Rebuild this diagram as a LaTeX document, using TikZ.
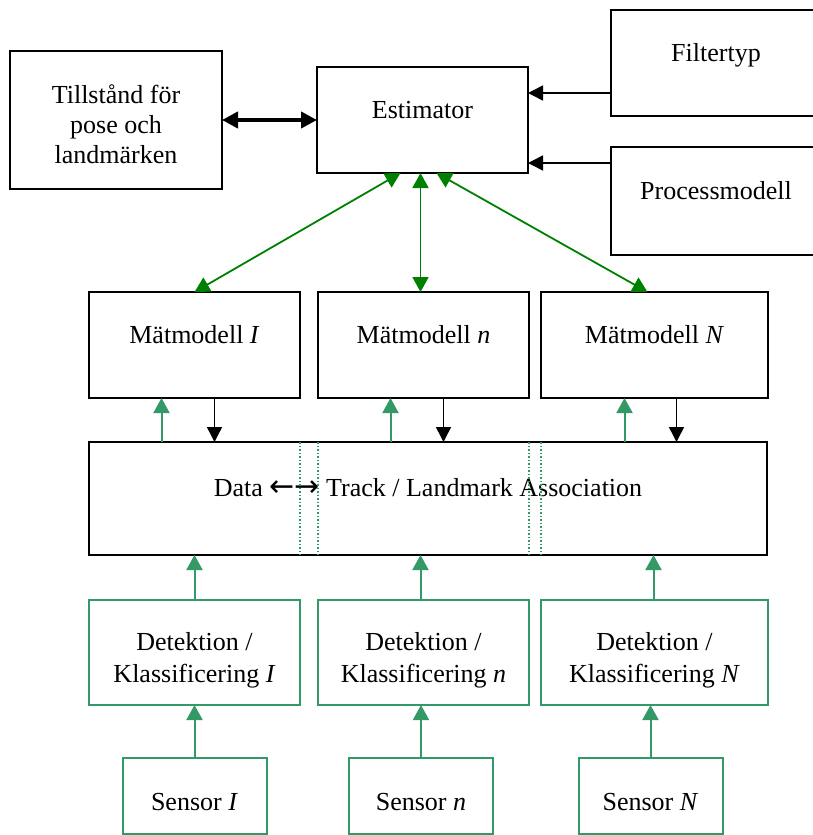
\documentclass[tikz,border=0pt]{standalone}
\usepackage{fontspec}
\setmainfont{Liberation Serif}
\newfontfamily\arrfont{DejaVu Sans}
\usepackage{xcolor}
\usetikzlibrary{positioning}
\usetikzlibrary{arrows.meta}

\definecolor{estgreen}{RGB}{0,128,0}
\definecolor{sensgreen}{RGB}{51,153,102}

\begin{document}
\begin{tikzpicture}[
    x = 1pt,
    y = -1pt,
    font = \fontsize{26}{31}\selectfont,
    blockf/.style = {
      rectangle,
      draw=black,
      line width=2pt,
      inner sep=0pt,
      outer sep=0pt,
      align=center
    },
    sensf/.style = {
      rectangle,
      draw=sensgreen,
      line width=2pt,
      inner sep=0pt,
      outer sep=0pt,
      align=center
    },
    raised/.style = {
      text height=18pt,
      text depth=22pt
    },
    lowered/.style = {
      text height=29pt,
      text depth=0pt
    },
    twoline/.style = {
      font=\fontsize{26}{32}\selectfont,
      text height=60pt,
      text depth=0pt
    },
    threeline/.style = {
      font=\fontsize{26}{30}\selectfont,
      text height=87pt,
      text depth=0pt
    },
    bothway/.style = {
      draw=black,
      line width=4pt,
      {Triangle[length=16pt,width=16pt]}-{Triangle[length=16pt,width=16pt]}
    },
    blk/.style = {
      draw=black,
      line width=1.5pt,
      -{Triangle[length=15pt,width=15pt]}
    },
    estarr/.style = {
      draw=estgreen,
      line width=1.8pt,
      {Triangle[length=15pt,width=16pt]}-{Triangle[length=15pt,width=16pt]}
    },
    sensarr/.style = {
      draw=sensgreen,
      line width=2pt,
      -{Triangle[length=15pt,width=16pt]}
    },
    split/.style = {
      draw=sensgreen,
      line width=1.2pt,
      dash pattern=on 1.5pt off 2pt
    }
  ]
    \clip (0,0) rectangle (813,835);

    % top row
    \node[blockf, threeline, minimum width=212pt, minimum height=138pt] (state) at (116,120)
      {Tillstånd för\\pose och\\landmärken};
    \node[blockf, raised, minimum width=211pt, minimum height=106pt] (estimator) at (422.5,120) {Estimator};
    \node[blockf, raised, minimum width=210pt, minimum height=106pt] (filtertyp) at (716,63) {Filtertyp};
    \node[blockf, raised, minimum width=210pt, minimum height=108pt] (procmodel) at (716,201) {Processmodell};

    % measurement models
    \node[blockf, raised, minimum width=211pt, minimum height=106pt] (mat1) at (194.5,345) {Mätmodell \textit{I}};
    \node[blockf, raised, minimum width=211pt, minimum height=106pt] (matn) [right=18pt of mat1] {Mätmodell \textit{n}};
    \node[blockf, raised, minimum width=227pt, minimum height=106pt] (matN) [right=12pt of matn] {Mätmodell \textit{N}};

    \node[blockf, raised, minimum width=678pt, minimum height=113pt] (assoc) at (428,498.5)
      {Data {\arrfont\fontsize{30}{30}\selectfont ←→} Track / Landmark Association};

    % detection / classification
    \node[sensf, twoline, minimum width=211pt, minimum height=105pt] (det1) at (194.5,652.5) {Detektion /\\Klassificering \textit{I}};
    \node[sensf, twoline, minimum width=211pt, minimum height=105pt] (detn) [right=18pt of det1] {Detektion /\\Klassificering \textit{n}};
    \node[sensf, twoline, minimum width=227pt, minimum height=105pt] (detN) [right=12pt of detn] {Detektion /\\Klassificering \textit{N}};

    % sensors
    \node[sensf, lowered, minimum width=144pt, minimum height=76pt] (sens1) at (194.5,796) {Sensor \textit{I}};
    \node[sensf, lowered, minimum width=144pt, minimum height=76pt] (sensn) at (421,796) {Sensor \textit{n}};
    \node[sensf, lowered, minimum width=144pt, minimum height=76pt] (sensN) at (650.5,796) {Sensor \textit{N}};

    \coordinate (fin) at ([yshift=-30pt]filtertyp.west);
    \coordinate (pin) at ([yshift=38pt]procmodel.west);

    \draw[bothway] (state) -- (estimator);
    \draw[blk] (fin) -- (estimator.east |- fin);
    \draw[blk] (pin) -- (estimator.east |- pin);

    \draw[estarr] ([xshift=-22pt]estimator.south) -- (mat1.north);
    \draw[estarr] ([xshift=-2pt]estimator.south) -- ([xshift=-2pt]estimator.south |- matn.north);
    \draw[estarr] ([xshift=14pt]estimator.south) -- ([xshift=-7pt]matN.north);

    \draw[sensarr] ([xshift=-33pt]mat1.south |- assoc.north) -- ([xshift=-33pt]mat1.south);
    \draw[sensarr] ([xshift=-33pt]matn.south |- assoc.north) -- ([xshift=-33pt]matn.south);
    \draw[sensarr] ([xshift=-30pt]matN.south |- assoc.north) -- ([xshift=-30pt]matN.south);
    \draw[blk] ([xshift=20pt]mat1.south) -- ([xshift=20pt]mat1.south |- assoc.north);
    \draw[blk] ([xshift=20pt]matn.south) -- ([xshift=20pt]matn.south |- assoc.north);
    \draw[blk] ([xshift=22pt]matN.south) -- ([xshift=22pt]matN.south |- assoc.north);

    \draw[split] (mat1.east |- assoc.north) -- (mat1.east |- assoc.south);
    \draw[split] (matn.west |- assoc.north) -- (matn.west |- assoc.south);
    \draw[split] (matn.east |- assoc.north) -- (matn.east |- assoc.south);
    \draw[split] (matN.west |- assoc.north) -- (matN.west |- assoc.south);

    \draw[sensarr] (det1.north) -- (det1.north |- assoc.south);
    \draw[sensarr] ([xshift=-3pt]detn.north) -- ([xshift=-3pt]detn.north |- assoc.south);
    \draw[sensarr] ([xshift=-1pt]detN.north) -- ([xshift=-1pt]detN.north |- assoc.south);

    \draw[sensarr] (sens1.north) -- (sens1.north |- det1.south);
    \draw[sensarr] (sensn.north) -- (sensn.north |- detn.south);
    \draw[sensarr] (sensN.north) -- (sensN.north |- detN.south);

  \end{tikzpicture}
\end{document}
